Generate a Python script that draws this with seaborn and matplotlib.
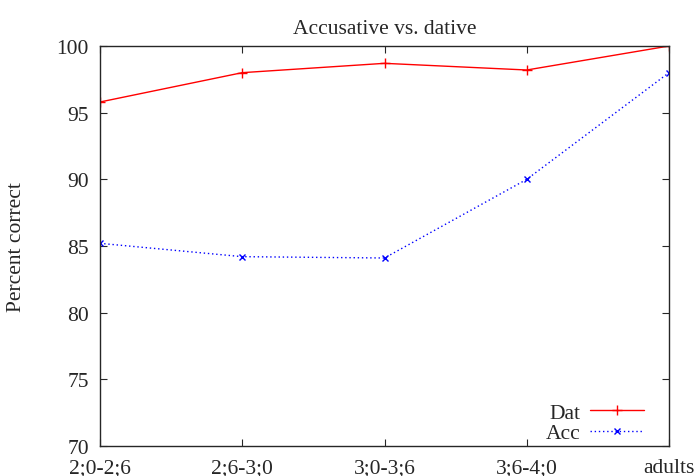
import matplotlib
matplotlib.use("Agg")
import matplotlib.pyplot as plt
import seaborn as sns
import pandas as pd

categories = ["2;0-2;6", "2;6-3;0", "3;0-3;6", "3;6-4;0", "adults"]
dat_values = [95.8, 98.0, 98.7, 98.2, 100.0]
acc_values = [85.2, 84.2, 84.1, 90.0, 98.0]
yticks = [70, 75, 80, 85, 90, 95, 100]

sns.set_style("ticks")
plt.rcParams['font.family'] = ['Liberation Serif', 'DejaVu Serif']
FS = 15.5
plt.rcParams['font.size'] = FS

fig = plt.figure(figsize=(6.96, 4.77), dpi=100)
ax = fig.add_axes([100/696, 30/477, 569/696, 400/477])

x = list(range(len(categories)))
sns.lineplot(x=x, y=dat_values, ax=ax, color="red", lw=1, marker="+", markersize=7,
             markeredgewidth=1, markeredgecolor="red", label="Dat")
sns.lineplot(x=x, y=acc_values, ax=ax, color="blue", lw=1, linestyle=(0, (1, 2)),
             marker="x", markersize=5, markeredgewidth=1, markeredgecolor="blue", label="Acc")

ax.set_xlim(0, len(categories) - 1)
ax.set_ylim(70, 100)
ax.set_xticks(x)
ax.set_xticklabels(categories)
ax.set_yticks(yticks)
ax.tick_params(direction="in", length=5, width=0.8, top=True, right=True, labelsize=FS)
ax.tick_params(axis="y", pad=8)
ax.tick_params(axis="x", pad=9)
for s in ax.spines.values():
    s.set_linewidth(1.0)
    s.set_visible(True)
ax.set_title("Accusative vs. dative", fontsize=FS, pad=9)
ax.set_ylabel("Percent correct", fontsize=FS, labelpad=22)
ax.set_xlabel("")

leg = ax.legend(loc="lower right", markerfirst=False, frameon=False, fontsize=FS,
                handlelength=2.5, handletextpad=0.45, borderaxespad=0.2, labelspacing=0.0,
                bbox_to_anchor=(0.979, -0.025))
for t in leg.get_texts():
    t.set_ha("right")

fig.savefig("out.png", dpi=100)
